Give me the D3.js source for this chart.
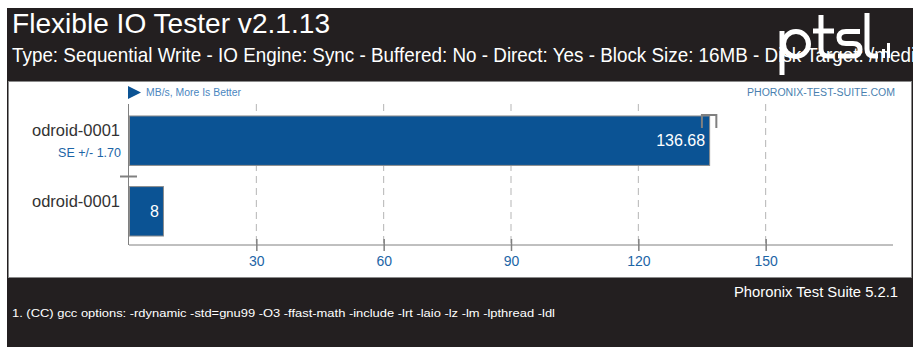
<!DOCTYPE html>
<html>
<head>
<meta charset="utf-8">
<script src="https://cdn.jsdelivr.net/npm/d3@7"></script>
<style>
  body { margin: 0; background: #fff; }
  svg { display: block; font-family: "Liberation Sans", Arial, sans-serif; }
</style>
</head>
<body>
<div id="chart"></div>
<script>
// chart values
const systems = ["odroid-0001", "odroid-0001"];
const results = [136.68, 8];
const stdErrors = [1.70, null];
const xTicks = [30, 60, 90, 120, 150];

const title = "Flexible IO Tester v2.1.13";
const subtitle = "Type: Sequential Write - IO Engine: Sync - Buffered: No - Direct: Yes - Block Size: 16MB - Disk Target: /media/sda1";
const unitsText = "MB/s, More Is Better";
const siteText = "PHORONIX-TEST-SUITE.COM";
const versionText = "Phoronix Test Suite 5.2.1";
const noteText = "1. (CC) gcc options: -rdynamic -std=gnu99 -O3 -ffast-math -include -lrt -laio -lz -lm -lpthread -ldl";

width = 914;
height = 347;

const svg = d3.select("#chart").append("svg")
  .attr("width", width)
  .attr("height", height)

// dark frame
svg.append("rect")
  .attr("x", 7).attr("y", 8)
  .attr("width", 906).attr("height", 339)
  .attr("fill", "#231f20")

svg.append("clipPath").attr("id", "frameClip")
  .append("rect").attr("x", 7).attr("y", 8).attr("width", 906).attr("height", 339)

// header text
svg.append("text")
  .attr("x", 12).attr("y", 33)
  .attr("fill", "#fff")
  .attr("font-size", 28)
  .attr("textLength", 318)
  .attr("lengthAdjust", "spacingAndGlyphs")
  .text(title)

svg.append("g")
  .attr("clip-path", "url(#frameClip)")
  .append("text")
  .attr("transform", "translate(12,62) scale(0.92,1)")
  .attr("fill", "#fff")
  .attr("font-size", 20.5)
  .text(subtitle)

// ptsl logo (drawn as strokes)
const logo = svg.append("g")
  .attr("fill", "none")
  .attr("stroke", "#fff")
  .attr("stroke-width", 5)
logo.append("path").attr("d", "M782,31V75")
logo.append("circle").attr("cx", 796).attr("cy", 44).attr("r", 12.5)
logo.append("path").attr("d", "M821,15V49Q821,56 828,56H834")
logo.append("path").attr("d", "M813,31H834")
logo.append("path").attr("d", "M860,31.5H846Q839,31.5 839,37.5Q839,43.5 846,43.5H853Q860,43.5 860,49.5Q860,56 853,56H838")
logo.append("path").attr("d", "M867,13V49Q867,56 874,56H878")
logo.append("rect").attr("x", 882).attr("y", 49).attr("width", 3).attr("height", 9).attr("fill", "#fff").attr("stroke", "none")
logo.append("rect").attr("x", 887).attr("y", 43).attr("width", 3).attr("height", 15).attr("fill", "#fff").attr("stroke", "none")

// white plot panel
svg.append("rect")
  .attr("x", 8.5).attr("y", 81.5)
  .attr("width", 903).attr("height", 196)
  .attr("fill", "#fff")
  .attr("stroke", "#8a8a8a")

// scales
const xScale = d3.scaleLinear().domain([0, 180]).range([129, 893])
const yScale = d3.scaleBand().domain(d3.range(systems.length)).range([107, 244]).paddingInner(0.3).paddingOuter(0.12)

// grid lines
svg.append("g").selectAll("line")
  .data(xTicks)
  .enter().append("line")
  .attr("x1", d => xScale(d)).attr("x2", d => xScale(d))
  .attr("y1", 104).attr("y2", 245)
  .attr("stroke", "#b5b5b5")
  .attr("stroke-dasharray", "7,5")

// bars
svg.append("g").selectAll("rect")
  .data(results)
  .enter().append("rect")
  .attr("x", xScale(0) + 0.5)
  .attr("y", (d, i) => yScale(i) + 0.5)
  .attr("width", d => xScale(d) - xScale(0))
  .attr("height", yScale.bandwidth())
  .attr("fill", "#0b5394")
  .attr("stroke", "#8d8d8d")

// value labels inside bars
svg.append("g").selectAll("text")
  .data(results)
  .enter().append("text")
  .attr("x", d => xScale(d) - 4)
  .attr("y", (d, i) => yScale(i) + yScale.bandwidth() / 2 + 6)
  .attr("text-anchor", "end")
  .attr("fill", "#fff")
  .attr("font-size", 16)
  .text(d => d)

// error bars
results.forEach((d, i) => {
  if (stdErrors[i] == null) return;
  const x1 = xScale(d - stdErrors[i]), x2 = xScale(d + stdErrors[i]);
  const y = yScale(i) - 0.5;
  const eb = svg.append("g").attr("stroke", "#808080").attr("stroke-width", 2).attr("fill", "none")
  eb.append("path").attr("d", `M${x1},${y + 13}V${y}H${x2}V${y + 13}`)
})

// axes
const xAxis = d3.axisBottom(xScale).tickValues(xTicks).tickSize(6).tickSizeOuter(0)
const gx = svg.append("g")
  .attr("transform", "translate(0,245)")
  .call(xAxis)
gx.select(".domain").attr("stroke", "#808080").attr("d", "M129,0H893")
gx.selectAll(".tick line").attr("stroke", "#808080").attr("y1", -6).attr("y2", 6).attr("stroke-width", 1.5)
gx.selectAll(".tick text")
  .attr("fill", "#1d65a6")
  .attr("font-size", 14)
  .attr("font-family", "Liberation Sans, Arial, sans-serif")
  .attr("dy", "0.85em")

svg.append("line")
  .attr("x1", 128.5).attr("x2", 128.5)
  .attr("y1", 104).attr("y2", 245)
  .attr("stroke", "#808080")

// separator tick between systems
svg.append("line")
  .attr("x1", 120).attr("x2", 137)
  .attr("y1", 176.5).attr("y2", 176.5)
  .attr("stroke", "#808080").attr("stroke-width", 2)

// system labels
svg.append("g").selectAll("text")
  .data(systems)
  .enter().append("text")
  .attr("x", 120)
  .attr("y", (d, i) => yScale(i) + 21)
  .attr("text-anchor", "end")
  .attr("fill", "#333")
  .attr("font-size", 17)
  .attr("textLength", 88)
  .attr("lengthAdjust", "spacingAndGlyphs")
  .text(d => d)

svg.append("g").selectAll("text")
  .data(stdErrors.filter(d => d != null))
  .enter().append("text")
  .attr("x", 121)
  .attr("y", (d, i) => yScale(i) + 42)
  .attr("text-anchor", "end")
  .attr("fill", "#1d65a6")
  .attr("font-size", 12.5)
  .text(d => "SE +/- " + d.toFixed(2))

// units marker
svg.append("path")
  .attr("d", "M128,86L141,92.5L128,99Z")
  .attr("fill", "#0b5394")
svg.append("text")
  .attr("x", 146).attr("y", 96)
  .attr("fill", "#4a86c0")
  .attr("font-size", 10)
  .attr("textLength", 95)
  .attr("lengthAdjust", "spacingAndGlyphs")
  .text(unitsText)

svg.append("text")
  .attr("x", 747).attr("y", 96)
  .attr("fill", "#4a7fb0")
  .attr("font-size", 10)
  .attr("textLength", 148)
  .attr("lengthAdjust", "spacingAndGlyphs")
  .text(siteText)

// footer
svg.append("text")
  .attr("x", 734).attr("y", 297)
  .attr("fill", "#fff")
  .attr("font-size", 14)
  .attr("textLength", 164)
  .attr("lengthAdjust", "spacingAndGlyphs")
  .text(versionText)

svg.append("text")
  .attr("x", 12).attr("y", 317)
  .attr("fill", "#fff")
  .attr("font-size", 11)
  .attr("textLength", 543)
  .attr("lengthAdjust", "spacingAndGlyphs")
  .text(noteText)
</script>
</body>
</html>
